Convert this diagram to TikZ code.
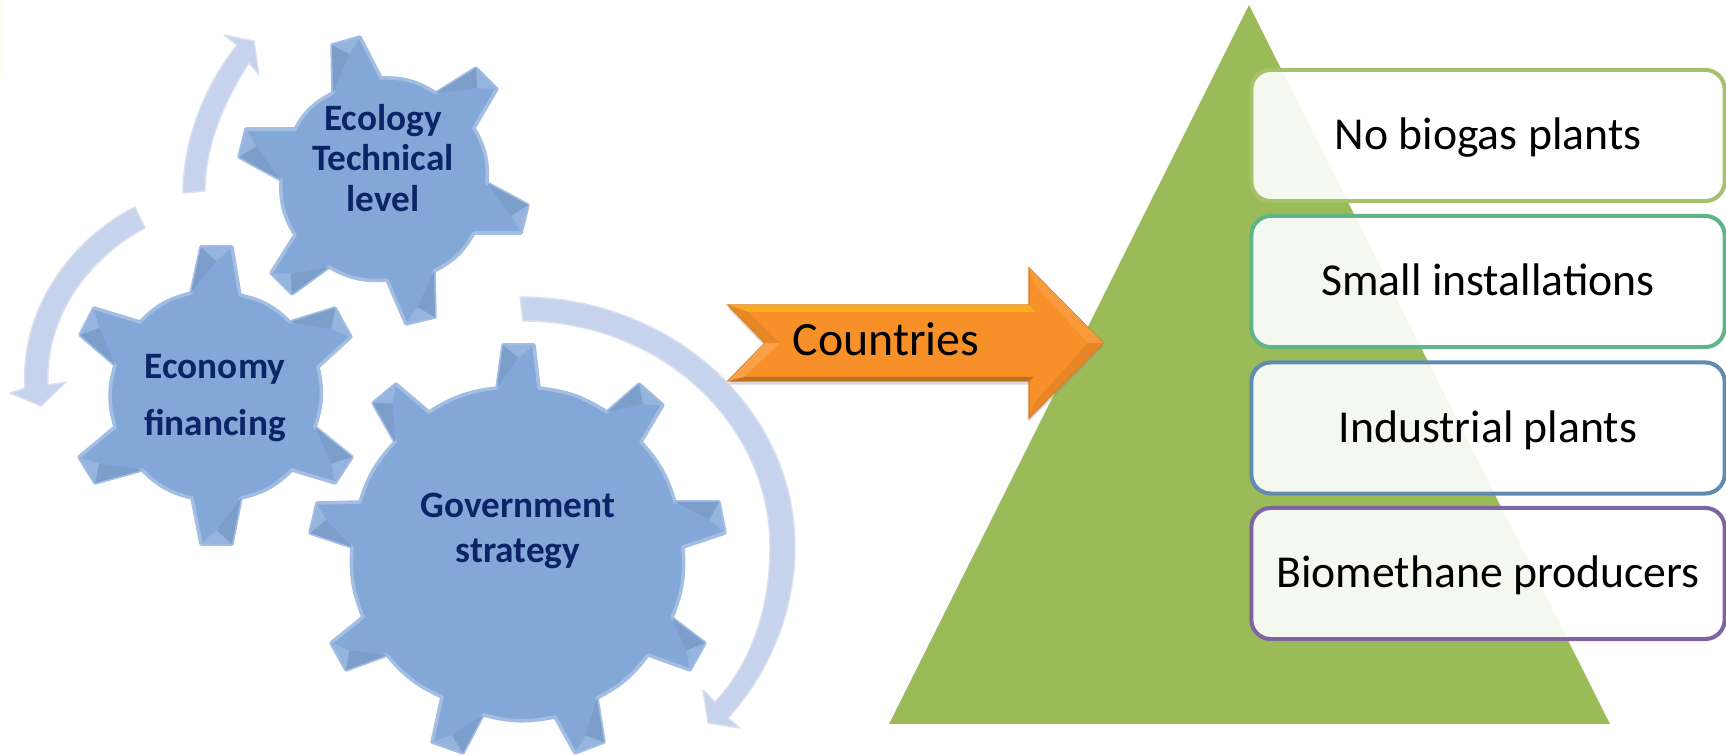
\documentclass[tikz,border=0pt]{standalone}
\usepackage{fontspec}
\setmainfont{Carlito}
\usepackage{tikz}
\usetikzlibrary{positioning, shadows}

\definecolor{gearblue}{HTML}{83A8D8}
\definecolor{gearedge}{HTML}{A3BEE2}
\definecolor{geartext}{HTML}{0B2467}
\definecolor{ringblue}{HTML}{C7D3EC}
\definecolor{leafgreen}{HTML}{9BBB59}
\definecolor{smallgreen}{HTML}{5FB587}
\definecolor{plantblue}{HTML}{5F8CB0}
\definecolor{methaneviolet}{HTML}{8064A2}
\definecolor{arroworange}{HTML}{F79029}

\newcommand{\gearbody}[3]{%
  \draw[gear] (#1) foreach \ax/\ay/\bx/\by/\cx/\cy/\dx/\dy in {#3} {
    to[bend left=#2] (\ax,\ay) -- (\bx,\by) -- (\cx,\cy) -- (\dx,\dy)} -- cycle;
  \foreach \ax/\ay/\bx/\by/\cx/\cy/\dx/\dy in {#3} {
    \pgfmathsetmacro{\ex}{0.7*(\bx+\cx)/2+0.3*(\ax+\dx)/2}
    \pgfmathsetmacro{\ey}{0.7*(\by+\cy)/2+0.3*(\ay+\dy)/2}
    \fill[gearblue!85!white] (\bx,\by) -- (\cx,\cy) -- (\ex,\ey) -- cycle;
    \fill[gearblue!94!black] (\ax,\ay) -- (\bx,\by) -- (\ex,\ey) -- cycle;
  }
}

\begin{document}
\begin{tikzpicture}[x=0.01cm, y=-0.01cm,
    gear/.style={fill=gearblue, draw=gearedge, line width=1pt, line join=round},
    ring/.style={fill=ringblue, draw=ringblue!70!white, line width=0.4pt, line join=round},
    gearlabel/.style={font=\fontsize{10.6}{11.5}\selectfont\bfseries, text=geartext, align=center},
    plate/.style={rectangle, rounded corners=5.5pt, line width=1.15pt, fill=white, fill opacity=0.9,
      text opacity=1, minimum width=4.73cm, minimum height=1.31cm, text height=10pt, text depth=2pt,
      font=\fontsize{13}{15}\selectfont}]
    \useasboundingbox (0,0) rectangle (1726,755);
    \fill[yellow!10] (0,0) rectangle (2,74);

    % Pyramid
    \fill[leafgreen] (1249,5) -- (1610,724) -- (889,724) -- cycle;
    \node[plate, draw=leafgreen!90!white] (nobiogas) at (1488,135.5) {No biogas plants};
    \node[plate, draw=smallgreen] (small) at (1488,281.5) {Small installations};
    \node[plate, draw=plantblue] (industrial) at (1488,428) {Industrial plants};
    \node[plate, draw=methaneviolet] (biomethane) at (1488,573.5) {Biomethane producers};

    % Gears
    \gearbody{295,129}{17}{333/93/332/45/360/37/381/78, 436/93/476/68/497/89/474/128,
      487/183/528/205/521/233/474/233, 434/271/435/317/406/324/387/280,
      329/267/292/294/271/273/295/235, 281/180/239/157/246/129/295/129}
    \gearbody{140,322}{16}{191/293/201/247/232/247/240/295, 290/322/335/308/351/337/318/367,
      315/427/352/457/335/483/292/470, 241/498/232/544/201/544/192/498,
      142/470/95/483/79/457/115/427, 115/365/80/335/94/308/140/322}
    \gearbody{429,412}{13}{497/388/503/345/534/345/539/388, 607/412/639/384/663/405/641/442,
      675/502/719/502/725/533/683/547, 672/618/705/643/690/670/648/655,
      597/698/604/742/575/753/555/717, 483/715/463/753/432/742/442/697,
      387/655/346/670/331/643/363/617, 352/547/310/533/317/503/360/502,
      395/442/373/403/396/384/429/412}
    \node[gearlabel] (ecology) at (383,158) {Ecology\\Technical\\level};
    \node[gearlabel] (economy) at (215,398) {Economy\\[4.7pt]financing};
    \node[gearlabel] (government) at (518,531) {Government\\[1.3pt]strategy};

    % Curved arrows
    \draw[ring] (183,193) .. controls (183,140) and (205,85) .. (237,45) -- (224,35) -- (254,41) -- (259,75)
      -- (249,63) .. controls (225,100) and (205,145) .. (205,191) -- cycle;
    \draw[ring] (135,207) .. controls (70,240) and (20,310) .. (25,388) -- (10,393) -- (41,406) -- (66,382)
      -- (48,385) .. controls (45,320) and (85,260) .. (145,228) -- cycle;
    \draw[ring] (520,297) .. controls (672,297) and (795,409) .. (795,547) .. controls (795,610) and (770,672) .. (728,718)
      -- (740,728) -- (708,723) -- (703,690) -- (715,702) .. controls (750,665) and (770,610) .. (770,547)
      .. controls (770,423) and (660,321) .. (523,321) -- cycle;

    % Countries arrow
    \draw[fill=arroworange, draw=arroworange!85!black, drop shadow={shadow xshift=0pt, shadow yshift=-1pt, opacity=0.3}]
      (728,305) -- (1029,305) -- (1029,268) -- (1103,343) -- (1029,418) -- (1029,381) -- (728,381) -- (765,343) -- cycle;
    \fill[arroworange!75!yellow] (728,305) -- (1029,305) -- (1036,312) -- (748,312) -- cycle;
    \fill[arroworange!90!white] (1029,268) -- (1103,343) -- (1088,343) -- (1035,285) -- cycle;
    \fill[arroworange!93!black] (1103,343) -- (1029,418) -- (1035,402) -- (1088,343) -- cycle;
    \fill[arroworange!78!black] (728,381) -- (1029,381) -- (1034,377) -- (744,377) -- cycle;
    \fill[arroworange!94!black] (728,305) -- (765,343) -- (780,343) -- (748,312) -- cycle;
    \fill[arroworange!85!white] (728,381) -- (765,343) -- (780,343) -- (744,377) -- cycle;
    \node[font=\fontsize{13.6}{15}\selectfont] (countries) at (886,339) {Countries};
\end{tikzpicture}
\end{document}
